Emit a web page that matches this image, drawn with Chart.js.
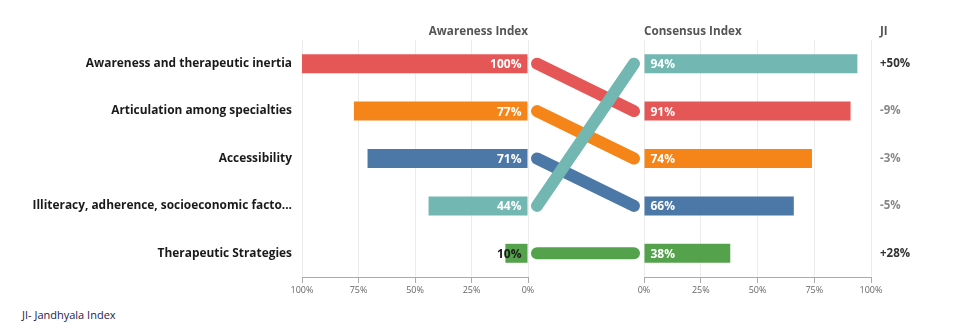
<!DOCTYPE html>
<html>
<head>
<meta charset="utf-8">
<script src="https://cdn.jsdelivr.net/npm/chart.js@4.4.1/dist/chart.umd.min.js"></script>
<style>
  body { margin: 0; background: #fff; font-family: 'Open Sans', sans-serif; }
  #wrap { position: relative; width: 972px; height: 329px; overflow: hidden; }
  .box { position: absolute; top: 0; height: 300px; }
  .head { position: absolute; top: 22px; font-size: 11.7px; font-weight: 700; color: #555; white-space: nowrap; }
  #note { position: absolute; left: 22px; top: 307px; font-size: 11px; color: #1c1c4c; }
</style>
</head>
<body>
<div id="wrap">
  <div class="box" style="left:0;width:540px"><canvas id="leftChart"></canvas></div>
  <div class="box" style="left:528px;width:116px"><canvas id="slopeChart"></canvas></div>
  <div class="box" style="left:632px;width:340px"><canvas id="rightChart"></canvas></div>
  <div class="head" style="right:444px">Awareness Index</div>
  <div class="head" style="left:644px">Consensus Index</div>
  <div class="head" style="left:880px">JI</div>
  <div id="note">JI- Jandhyala Index</div>
</div>
<script>
// values
const categories = [
    'Awareness and therapeutic inertia',
    'Articulation among specialties',
    'Accessibility',
    'Illiteracy, adherence, socioeconomic facto...',
    'Therapeutic Strategies'
];
const awareness = [100, 77, 71, 44, 10];
const consensus = [91, 74, 66, 94, 38];
const colors = ['#E45756', '#F58518', '#4C78A8', '#72B7B2', '#54A24B'];

Chart.defaults.font.family = "'Open Sans', sans-serif";
Chart.defaults.animation = false;

// right side is sorted by consensus
const order = categories.map((c, i) => i).sort((a, b) => consensus[b] - consensus[a]);
const rightRank = categories.map((c, i) => order.indexOf(i));
const ji = order.map(i => consensus[i] - awareness[i]);
const jiLabels = ji.map(v => (v > 0 ? '+' : '') + v + '%');

const pct = v => v + '%';

// white value label at the base of each bar, dark if it doesn't fit
const valueLabels = {
    id: 'valueLabels',
    afterDatasetsDraw(chart) {
        const ctx = chart.ctx;
        const meta = chart.getDatasetMeta(0);
        const values = chart.data.datasets[0].data;
        ctx.save();
        ctx.font = "700 12px 'Open Sans', sans-serif";
        ctx.textBaseline = 'middle';
        meta.data.forEach((bar, i) => {
            const text = values[i] + '%';
            const len = Math.abs(bar.x - bar.base);
            const w = ctx.measureText(text).width;
            const dir = bar.x < bar.base ? -1 : 1;
            ctx.textAlign = dir < 0 ? 'right' : 'left';
            ctx.fillStyle = w + 10 > len ? '#1a1a1a' : '#fff';
            ctx.fillText(text, bar.base + dir * 6, bar.y + 1);
        });
        ctx.restore();
    }
};

const xAxis = (reverse) => ({
    type: 'linear',
    min: 0,
    max: 100,
    reverse: reverse,
    ticks: { stepSize: 25, callback: pct, color: '#666', font: { size: 9 }, padding: 2, maxRotation: 0 },
    grid: { color: '#ececec', tickColor: '#aaa', tickLength: 6 },
    border: { color: '#aaa' },
    afterFit: s => { s.height = 23; }
});

new Chart(document.getElementById('leftChart'), {
    type: 'bar',
    data: {
        labels: categories,
        datasets: [{
            data: awareness,
            backgroundColor: colors,
            categoryPercentage: 1,
            barPercentage: 0.4
        }]
    },
    options: {
        indexAxis: 'y',
        responsive: true,
        maintainAspectRatio: false,
        layout: { padding: { top: 40, right: 12, left: 0, bottom: 0 } },
        plugins: { legend: { display: false }, tooltip: { enabled: false } },
        scales: {
            x: xAxis(true),
            y: {
                grid: { display: false, drawTicks: false },
                border: { display: false },
                ticks: { color: '#1a1a1a', font: { size: 11.9, weight: '700' }, padding: 10 },
                afterFit: s => { s.width = 302; }
            }
        }
    },
    plugins: [valueLabels]
});

new Chart(document.getElementById('slopeChart'), {
    type: 'line',
    data: {
        datasets: categories.map((c, i) => ({
            label: c,
            data: [{ x: 0, y: i }, { x: 1, y: rightRank[i] }],
            borderColor: colors[i],
            borderWidth: 12,
            borderCapStyle: 'round',
            pointRadius: 0,
            clip: false,
            order: -i
        }))
    },
    options: {
        responsive: true,
        maintainAspectRatio: false,
        layout: { padding: { top: 40, bottom: 23, left: 9, right: 10 } },
        plugins: { legend: { display: false }, tooltip: { enabled: false } },
        scales: {
            x: { type: 'linear', display: false, min: 0, max: 1 },
            y: { type: 'linear', display: false, min: -0.5, max: 4.5, reverse: true }
        }
    }
});

new Chart(document.getElementById('rightChart'), {
    type: 'bar',
    data: {
        labels: order.map(i => categories[i]),
        datasets: [{
            data: order.map(i => consensus[i]),
            backgroundColor: order.map(i => colors[i]),
            categoryPercentage: 1,
            barPercentage: 0.4
        }]
    },
    options: {
        indexAxis: 'y',
        responsive: true,
        maintainAspectRatio: false,
        layout: { padding: { top: 40, left: 12, right: 0, bottom: 0 } },
        plugins: { legend: { display: false }, tooltip: { enabled: false } },
        scales: {
            x: xAxis(false),
            y: { display: false },
            ji: {
                type: 'category',
                position: 'right',
                labels: jiLabels,
                offset: true,
                grid: { display: false, drawTicks: false },
                border: { display: false },
                ticks: {
                    padding: 9,
                    color: c => ji[c.index] > 0 ? '#333' : '#888',
                    font: { size: 11.5, weight: '700' }
                },
                afterFit: s => { s.width = 101; }
            }
        }
    },
    plugins: [valueLabels]
});
</script>
</body>
</html>
